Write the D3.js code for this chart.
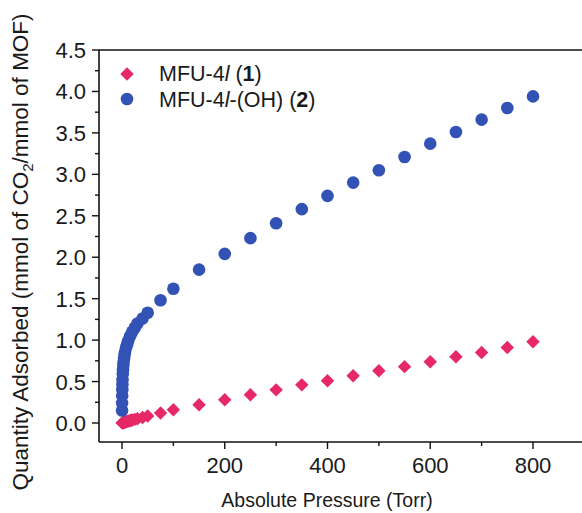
<!doctype html>
<html>
<head>
<script type='text/javascript' src='https://d3js.org/d3.v7.min.js'></script>
<style>
body { margin: 0; background: #fff; }
text { font-family: 'Liberation Sans', Arial, sans-serif; fill: #1a1a1a; }
</style>
</head>
<body>
<script>
var width = 582, height = 513;

// MFU-4l (1) - red diamonds
var p1 = [0.5, 1, 2, 3, 4, 5, 6, 8, 10, 12, 14, 16, 18, 20, 25, 30, 40, 50, 75, 100,
  150, 200, 250, 300, 350, 400, 450, 500, 550, 600, 650, 700, 750, 800];
var q1 = [0.0, 0.002, 0.004, 0.006, 0.008, 0.01, 0.012, 0.015, 0.02, 0.023, 0.026, 0.03, 0.033, 0.036, 0.044, 0.052, 0.067, 0.085, 0.12, 0.16,
  0.22, 0.28, 0.34, 0.40, 0.46, 0.51, 0.57, 0.63, 0.68, 0.74, 0.80, 0.85, 0.91, 0.98];

// MFU-4l-(OH) (2) - blue circles
var p2 = [0.1, 0.2, 0.4, 0.6, 0.8, 1, 1.5, 2, 2.5, 3, 4, 5, 6, 8, 10, 12, 16, 20, 25, 30, 40, 50, 75, 100,
  150, 200, 250, 300, 350, 400, 450, 500, 550, 600, 650, 700, 750, 800];
var q2 = [0.15, 0.24, 0.33, 0.40, 0.46, 0.52, 0.59, 0.64, 0.69, 0.73, 0.78, 0.82, 0.86, 0.91, 0.95, 0.99, 1.05, 1.10, 1.15, 1.20, 1.26, 1.33, 1.48, 1.62,
  1.85, 2.04, 2.23, 2.41, 2.58, 2.74, 2.90, 3.05, 3.21, 3.37, 3.51, 3.66, 3.80, 3.94];

var xTicks = [0, 200, 400, 600, 800];
var yTicks = [0, 0.5, 1, 1.5, 2, 2.5, 3, 3.5, 4, 4.5];

var red = '#e62867', blue = '#3352b6';
var tickFs = 22, legFs = 21.5;

var svg = d3.select('body').append('svg').attr('width', width).attr('height', height);

// plot frame
var padL = 99, padB = 442, padT = 50;
var x = d3.scaleLinear().domain([0, 800]).range([122, 533]);
var y = d3.scaleLinear().domain([0, 4.5]).range([423, padT]);

var ser1 = p1.map(function(d, i) { return {p: d, q: q1[i]}; });
var ser2 = p2.map(function(d, i) { return {p: d, q: q2[i]}; });

// top frame line
svg.append('line').attr('x1', padL).attr('x2', width).attr('y1', padT).attr('y2', padT)
  .attr('stroke', '#111').attr('stroke-width', 1.6);

// x axis
var xAxis = svg.append('g').attr('transform', 'translate(0,' + padB + ')');
xAxis.append('line').attr('x1', padL).attr('x2', width).attr('stroke', '#111').attr('stroke-width', 1.6);
xAxis.selectAll('.minor').data(d3.range(100, 800, 200)).join('line')
  .attr('x1', x).attr('x2', x).attr('y1', 0).attr('y2', 4)
  .attr('stroke', '#111').attr('stroke-width', 1.4);
xAxis.selectAll('.major').data(xTicks).join('line')
  .attr('x1', x).attr('x2', x).attr('y1', 0).attr('y2', 7)
  .attr('stroke', '#111').attr('stroke-width', 1.4);
xAxis.selectAll('text').data(xTicks).join('text')
  .attr('x', x).attr('y', 31).attr('text-anchor', 'middle')
  .attr('font-size', tickFs).text(function(d) { return d; });

// y axis
var yAxis = svg.append('g').attr('transform', 'translate(' + padL + ',0)');
yAxis.append('line').attr('y1', padT).attr('y2', padB).attr('stroke', '#111').attr('stroke-width', 1.6);
yAxis.selectAll('.minor').data(d3.range(0.25, 4.5, 0.5)).join('line')
  .attr('y1', y).attr('y2', y).attr('x1', 0).attr('x2', -4)
  .attr('stroke', '#111').attr('stroke-width', 1.4);
yAxis.selectAll('.major').data(yTicks).join('line')
  .attr('y1', y).attr('y2', y).attr('x1', 0).attr('x2', -7)
  .attr('stroke', '#111').attr('stroke-width', 1.4);
yAxis.selectAll('text').data(yTicks).join('text')
  .attr('x', -13).attr('y', function(d) { return y(d) + 8; }).attr('text-anchor', 'end')
  .attr('font-size', tickFs).text(function(d) { return d.toFixed(1); });

// axis titles
svg.append('text').attr('x', 327).attr('y', 507).attr('text-anchor', 'middle')
  .attr('font-size', 19.5).text('Absolute Pressure (Torr)');

var yl = svg.append('text').attr('transform', 'translate(28,252) rotate(-90)')
  .attr('text-anchor', 'middle').attr('font-size', 22.5);
yl.append('tspan').text('Quantity Adsorbed (mmol of CO');
yl.append('tspan').attr('font-size', 15).attr('dy', 5).text('2');
yl.append('tspan').attr('dy', -5).text('/mmol of MOF)');

// series
var diamond = d3.symbol().type(d3.symbolDiamond2).size(115);
svg.append('g').selectAll('path').data(ser1).join('path')
  .attr('d', diamond)
  .attr('transform', function(d) { return 'translate(' + x(d.p) + ',' + y(d.q) + ')'; })
  .attr('fill', red);

svg.append('g').selectAll('circle').data(ser2).join('circle')
  .attr('cx', function(d) { return x(d.p); })
  .attr('cy', function(d) { return y(d.q); })
  .attr('r', 6.3)
  .attr('fill', blue);

// legend
var lg = svg.append('g');
lg.append('path').attr('d', diamond).attr('transform', 'translate(127,74)').attr('fill', red);
lg.append('circle').attr('cx', 127).attr('cy', 99).attr('r', 6.3).attr('fill', blue);
var t1 = lg.append('text').attr('x', 159).attr('y', 81).attr('font-size', legFs);
t1.append('tspan').text('MFU-4');
t1.append('tspan').attr('font-style', 'italic').text('l');
t1.append('tspan').text(' (');
t1.append('tspan').attr('font-weight', 'bold').text('1');
t1.append('tspan').text(')');
var t2 = lg.append('text').attr('x', 159).attr('y', 107).attr('font-size', legFs);
t2.append('tspan').text('MFU-4');
t2.append('tspan').attr('font-style', 'italic').text('l');
t2.append('tspan').text('-(OH) (');
t2.append('tspan').attr('font-weight', 'bold').text('2');
t2.append('tspan').text(')');
</script>
</body>
</html>
